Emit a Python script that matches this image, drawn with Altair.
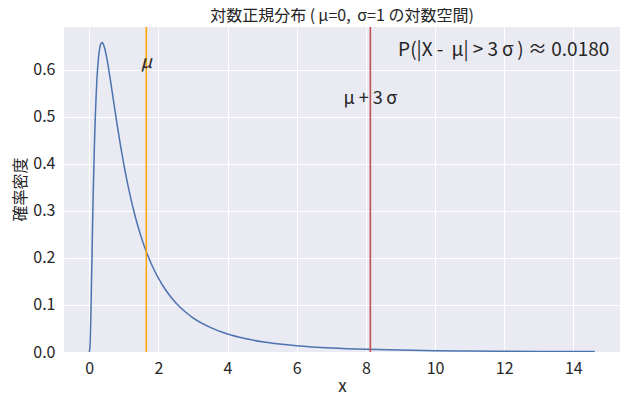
import altair as alt
import pandas as pd

# curve points
xs = [0.001, 0.02, 0.03, 0.04, 0.05, 0.06, 0.07, 0.08, 0.09, 0.1, 0.12, 0.15, 0.17, 0.2, 0.22,
      0.25, 0.27, 0.3, 0.33, 0.37, 0.4, 0.45, 0.5, 0.55, 0.6, 0.65, 0.7, 0.75, 0.8, 0.9, 1.0,
      1.1, 1.2, 1.3, 1.4, 1.5, 1.6, 1.8, 2.0, 2.2, 2.5, 2.8, 3.0, 3.5, 4.0, 4.5, 5.0, 5.5, 6.0,
      7.0, 8.0, 9.0, 10.0, 11.0, 12.0, 13.0, 14.0, 14.62]
ys = [0.0, 0.0105, 0.0284, 0.0561, 0.0897, 0.1270, 0.1661, 0.1990, 0.2442, 0.2816, 0.3512,
      0.4396, 0.4881, 0.5462, 0.5765, 0.6104, 0.6271, 0.6442, 0.6539, 0.6577, 0.6555, 0.6445,
      0.6275, 0.6067, 0.5836, 0.5594, 0.5348, 0.5104, 0.4864, 0.4406, 0.3989, 0.3610, 0.3270,
      0.2965, 0.2693, 0.2450, 0.2233, 0.1865, 0.1569, 0.1329, 0.1049, 0.0839, 0.0727, 0.0524,
      0.0381, 0.0286, 0.0218, 0.0170, 0.0134, 0.0086, 0.0057, 0.0040, 0.0028, 0.0021, 0.0015,
      0.0012, 0.0009, 0.0008]

mean_x = 1.65
upper_x = 8.13
title_text = "対数正規分布 (\u2009μ=0,\u2009 σ=1 の対数空間)"
x_ticks = [0, 2, 4, 6, 8, 10, 12, 14]
y_ticks = [0.0, 0.1, 0.2, 0.3, 0.4, 0.5, 0.6]

FONT = "Noto Sans CJK JP"
INK = "#262626"

X_DOMAIN = [-0.73, 15.35]
Y_DOMAIN = [0, 0.6906]

curve = pd.DataFrame({"x": xs, "y": ys})
rules = pd.DataFrame({"x": [mean_x, upper_x], "c": ["mean", "upper"]})
mu_lbl = pd.DataFrame({"x": [mean_x], "y": [0.615], "t": ["μ"]})
up_lbl = pd.DataFrame({"x": [upper_x], "y": [0.538], "t": ["μ + 3\u2009σ"]})
prob = pd.DataFrame({"x": [15.04], "y": [0.6426],
                     "t": ["P(|X - \u2009μ| > 3\u2009σ\u2009) ≈ 0.0180"]})
# chart title, centred above the plot area
ttl = pd.DataFrame({"x": [(X_DOMAIN[0] + X_DOMAIN[1]) / 2], "y": [0.7035], "t": [title_text]})

xscale = alt.Scale(domain=X_DOMAIN, nice=False, zero=False)
yscale = alt.Scale(domain=Y_DOMAIN, nice=False)

xaxis = alt.Axis(values=x_ticks, title="x", grid=True, gridColor="white", gridWidth=1,
                 domain=False, ticks=False, labelPadding=8, labelFontSize=16,
                 labelFont=FONT, labelColor=INK, titleFont=FONT, titleFontSize=17,
                 titleFontWeight="normal", titleColor=INK, titlePadding=2)
yaxis = alt.Axis(values=y_ticks, format=".1f", title="確率密度", grid=True, gridColor="white",
                 gridWidth=1, domain=False, ticks=False, labelPadding=9, labelFontSize=16,
                 labelFont=FONT, labelColor=INK, titleFont=FONT, titleFontSize=16,
                 titleFontWeight="normal", titleColor=INK,
                 titleX=-44, titleY=162, titleAngle=-90, titleAlign="center",
                 titleBaseline="middle")

line = alt.Chart(curve).mark_line(color="#4C72B0", strokeWidth=1.5, clip=True,
                                  interpolate="monotone").encode(
    x=alt.X("x:Q", scale=xscale, axis=xaxis),
    y=alt.Y("y:Q", scale=yscale, axis=yaxis),
)

vr = alt.Chart(rules).mark_rule(strokeWidth=1.6).encode(
    x=alt.X("x:Q", scale=xscale),
    color=alt.Color("c:N", scale=alt.Scale(domain=["mean", "upper"],
                                             range=["#FFA500", "#C44E52"]), legend=None),
)

mu_txt = alt.Chart(mu_lbl).mark_text(font=FONT, fontSize=18, color=INK, fontStyle="italic",
                                     align="center", baseline="middle").encode(
    x=alt.X("x:Q", scale=xscale), y=alt.Y("y:Q", scale=yscale), text="t:N")

up_txt = alt.Chart(up_lbl).mark_text(font=FONT, fontSize=18, color=INK,
                                     align="center", baseline="middle").encode(
    x=alt.X("x:Q", scale=xscale), y=alt.Y("y:Q", scale=yscale), text="t:N")

ptxt = alt.Chart(prob).mark_text(font=FONT, fontSize=19, color=INK,
                                 align="right", baseline="middle").encode(
    x=alt.X("x:Q", scale=xscale), y=alt.Y("y:Q", scale=yscale), text="t:N")

title_mark = alt.Chart(ttl).mark_text(font=FONT, fontSize=16, color=INK,
                                      align="center", baseline="alphabetic").encode(
    x=alt.X("x:Q", scale=xscale), y=alt.Y("y:Q", scale=yscale), text="t:N")

chart = alt.layer(line, vr, mu_txt, up_txt, ptxt, title_mark).properties(
    width=556, height=325,
    autosize=alt.AutoSizeParams(type="none"),
    padding={"left": 56, "top": 19, "right": 0, "bottom": 47},
).configure_view(fill="#EAEAF2", stroke=None)

chart.save("out.html", embed_options={"renderer": "svg", "actions": False})
